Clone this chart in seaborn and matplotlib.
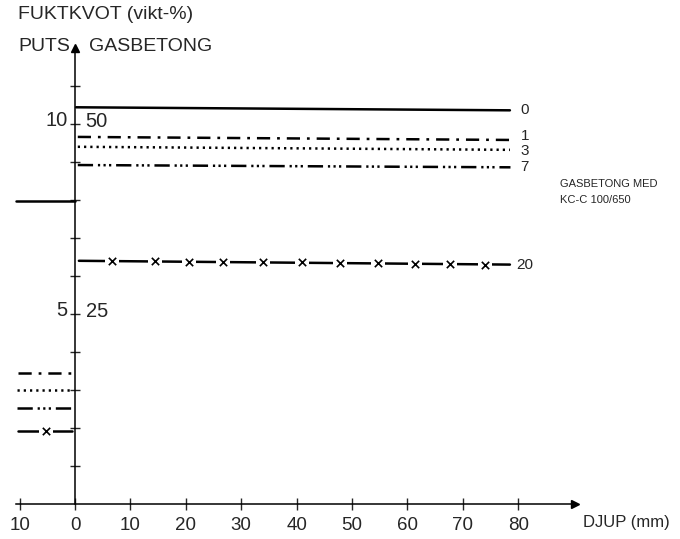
import matplotlib
matplotlib.use("Agg")
import matplotlib.pyplot as plt
import seaborn as sns
import pandas as pd

# fuktkvot efter antal dygn, puts (vänster skala) och gasbetong (höger skala)
days = ["0", "1", "3", "7", "20"]
puts_x0 = [-10.6, -10.3, -10.4, -10.4, -10.3]
puts_x1 = [0.0, -0.3, -0.3, -0.3, -0.5]
puts_val = [7.97, 3.46, 3.01, 2.53, 1.92]
gas_x0 = [0.2, 0.5, 0.5, 0.5, 0.7]
gas_x1 = [78.5, 78.6, 78.5, 78.6, 78.5]
gas_start = [52.2, 48.3, 47.0, 44.6, 32.0]
gas_end = [51.8, 47.9, 46.6, 44.3, 31.5]

# kryss på 20-dygnskurvan
x20_gas = [6.7, 14.4, 20.6, 26.7, 33.9, 40.9, 47.8, 54.7, 61.4, 67.7, 74.0]
y20_gas = [32.0, 32.0, 31.9, 31.9, 31.8, 31.8, 31.7, 31.7, 31.6, 31.6, 31.5]
x20_puts = [-5.2]
y20_puts = [1.92]

xticks = [-10, 0, 10, 20, 30, 40, 50, 60, 70, 80]
xticklabels = ["10", "0", "10", "20", "30", "40", "50", "60", "70", "80"]
yticks = [1, 2, 3, 4, 5, 6, 7, 8, 9, 10, 11]

sns.set_style("white")
plt.rcParams['font.family'] = ['Liberation Sans', 'DejaVu Sans']
plt.rcParams['lines.scale_dashes'] = False

dashes = {
    "0": "",
    "1": (9.5, 5, 2, 5),
    "3": (1.6, 2.9),
    "7": (11, 3.5, 1.6, 2.4, 1.6, 2.4, 1.6, 3.5),
    "20": "",
}
# förskjutning (punkter) för kurvetiketterna så de inte krockar
label_shift = {"0": 0, "1": 3, "3": -1, "7": 0, "20": 0}

puts_df = pd.DataFrame({
    "djup": puts_x0 + puts_x1,
    "fukt": puts_val + puts_val,
    "dygn": days + days,
})
gas_df = pd.DataFrame({
    "djup": gas_x0 + gas_x1,
    "fukt": gas_start + gas_end,
    "dygn": days + days,
})

fig = plt.figure(figsize=(6.8, 5.39), dpi=100)
ax = fig.add_axes([0, 0, 1, 1])
ax.set_xlim(-13.54, 109.2)
ax.set_ylim(-0.921, 13.263)
ax.patch.set_alpha(0)

ax2 = ax.twinx()
ax2.set_ylim(-0.921 * 5, 13.263 * 5)
for s in ax2.spines.values():
    s.set_visible(False)
ax2.set_yticks([])

#%% kurvor
sns.lineplot(data=puts_df, x="djup", y="fukt", style="dygn", style_order=days,
             dashes=dashes, color="black", lw=1.8, estimator=None, sort=False,
             legend=False, ax=ax)
sns.lineplot(data=gas_df, x="djup", y="fukt", style="dygn", style_order=days,
             dashes=dashes, color="black", lw=1.8, estimator=None, sort=False,
             legend=False, ax=ax2)

# luckor och kryss
sns.scatterplot(x=x20_gas, y=y20_gas, marker="s", color="white", s=110,
                linewidth=0, zorder=3, ax=ax2)
sns.scatterplot(x=x20_gas, y=y20_gas, marker="x", color="black", s=28,
                linewidth=1.2, zorder=4, ax=ax2)
sns.scatterplot(x=x20_puts, y=y20_puts, marker="s", color="white", s=110,
                linewidth=0, zorder=3, ax=ax)
sns.scatterplot(x=x20_puts, y=y20_puts, marker="x", color="black", s=28,
                linewidth=1.2, zorder=4, ax=ax)

for d, ye in zip(days, gas_end):
    ax2.annotate(d, (81.2, ye), xytext=(0, label_shift[d]),
                 textcoords="offset points", ha="center", va="center", fontsize=11)

#%% axlar
for side in ["top", "right"]:
    ax.spines[side].set_visible(False)
ax.spines["left"].set_position(("data", 0))
ax.spines["bottom"].set_position(("data", 0))
ax.spines["left"].set_bounds(0, 12.0)
ax.spines["bottom"].set_bounds(-10.65, 90.0)
for side in ["left", "bottom"]:
    ax.spines[side].set_linewidth(1.1)
    ax.spines[side].set_color("black")
ax.plot(0, 12.0, marker="^", color="black", markersize=6, clip_on=False)
ax.plot(90.3, 0, marker=">", color="black", markersize=6, clip_on=False)

ax.set_xticks(xticks)
ax.set_xticklabels(xticklabels, fontsize=13.5)
ax.set_yticks(yticks)
ax.set_yticklabels([])
ax.tick_params(axis="x", direction="inout", length=8, width=1, pad=5, bottom=True)
ax.tick_params(axis="y", direction="inout", length=7, width=1, left=True)
ax.set_xlabel("")
ax.set_ylabel("")
ax2.set_ylabel("")

ax.text(-1.3, 9.95, "10", ha="right", va="baseline", fontsize=14.5)
ax.text(-1.3, 4.95, "5", ha="right", va="baseline", fontsize=14.5)
ax2.text(1.9, 49.6, "50", ha="left", va="baseline", fontsize=14.5)
ax2.text(1.9, 24.6, "25", ha="left", va="baseline", fontsize=14.5)

fig.text(0.0265, 0.974, "FUKTKVOT (vikt-%)", ha="left", va="center", fontsize=14)
fig.text(0.0265, 0.913, "PUTS", ha="left", va="center", fontsize=14)
fig.text(0.131, 0.913, "GASBETONG", ha="left", va="center", fontsize=14)
fig.text(0.857, 0.0297, "DJUP (mm)", ha="left", va="center", fontsize=12)
fig.text(0.824, 0.659, "GASBETONG MED", ha="left", va="center", fontsize=8)
fig.text(0.824, 0.629, "KC-C 100/650", ha="left", va="center", fontsize=8)

fig.savefig("out.png", dpi=100)
